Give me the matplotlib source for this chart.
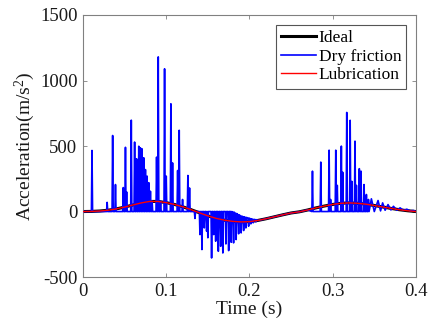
"""Acceleration response: ideal vs dry friction vs lubrication."""

import matplotlib

matplotlib.use("Agg")
import matplotlib.pyplot as plt  # noqa: E402

plt.rcParams["font.family"] = ["Liberation Serif", "DejaVu Serif"]
plt.rcParams["mathtext.fontset"] = "custom"
plt.rcParams["mathtext.rm"] = "Liberation Serif"
plt.rcParams["mathtext.it"] = "Liberation Serif:italic"
plt.rcParams["axes.unicode_minus"] = False

# ---- data ----
ideal_t = [0.00, 0.01, 0.02, 0.03, 0.04, 0.05, 0.06, 0.07, 0.08, 0.09,
           0.10, 0.11, 0.12, 0.13, 0.14, 0.15, 0.16, 0.17, 0.18, 0.19,
           0.20, 0.21, 0.22, 0.23, 0.24, 0.25, 0.26, 0.27, 0.28, 0.29,
           0.30, 0.31, 0.32, 0.33, 0.34, 0.35, 0.36, 0.37, 0.38, 0.39, 0.40]
ideal_a = [0, 1, 4, 10, 20, 34, 50, 66, 77, 77,
           68, 54, 36, 14, -10, -33, -52, -66, -75, -79,
           -77, -68, -55, -40, -25, -11, -2, 12, 28, 42,
           54, 63, 66, 63, 56, 46, 35, 24, 14, 6, 0]
lub_a = [0, 1, 4, 10, 20, 34, 50, 66, 77, 77,
         68, 54, 36, 14, -10, -33, -52, -66, -75, -79,
         -77, -68, -55, -40, -25, -11, -2, 12, 28, 42,
         54, 63, 66, 63, 56, 46, 35, 24, 14, 6, 0]

# dry friction: stick-slip impulses (time, peak, level between impulses)
spike_t = [0.0108, 0.0290, 0.0356, 0.0390, 0.0484, 0.0510, 0.0524, 0.0580,
           0.0620, 0.0644, 0.0670, 0.0690, 0.0710, 0.0730, 0.0750, 0.0770,
           0.0790, 0.0810, 0.0830, 0.0884, 0.0904, 0.0932, 0.0980, 0.1000,
           0.1056, 0.1076, 0.1137, 0.1156, 0.1196, 0.1260, 0.1280,
           0.1345, 0.1405, 0.1429, 0.1457, 0.1485, 0.1500, 0.1545, 0.1570,
           0.1594, 0.1626, 0.1654, 0.1680, 0.1717, 0.1750, 0.1780, 0.1809,
           0.1840, 0.1870, 0.1900, 0.1930, 0.1957, 0.1990, 0.2017, 0.2045,
           0.2077,
           0.2757, 0.2857, 0.2957, 0.2975, 0.3037, 0.3055, 0.3104, 0.3120,
           0.3169, 0.3210, 0.3230, 0.3268, 0.3285, 0.3320, 0.3340, 0.3377,
           0.3405, 0.3430]
spike_peak = [466, 70, 580, 206, 183, 490, 150, 697,
              530, 402, 498, 486, 478, 410, 320, 270,
              220, 155, 80, 415, 1180, 80, 1089, 270,
              822, 371, 313, 620, 92, 275, 180,
              -53, -176, -290, -125, -150, -200, -354, -176,
              -226, -303, -265, -316, -247, -298, -234, -239,
              -214, -170, -163, -145, -125, -112, -94, -86,
              -79,
              308, 377, 468, 92, 468, 200, 499, 300,
              756, 696, 230, 537, 200, 327, 308, 206,
              130, 92]
spike_base = [0] * 31 + [0] * 15 + [-5, -15, -25, -35, -40, -45, -50, -55, -60, -62] + [0] * 18

tail_t = [0.3465, 0.3500, 0.3545, 0.3575, 0.3600, 0.3630, 0.3665, 0.3700,
          0.3730, 0.3770, 0.3810, 0.3850, 0.3890, 0.3930, 0.3970, 0.4000]
tail_a = [97, 0, 84, 5, 66, 10, 53, 12, 40, 10, 28, 8, 18, 5, 8, 0]

SPIKE_W = 0.0007

# assemble the dry friction trace
pts = [(0.0, 0.0)]
for t, p, b in zip(spike_t, spike_peak, spike_base):
    pts += [(t - SPIKE_W, b), (t, p), (t + SPIKE_W, b)]
for t, a in zip(ideal_t, ideal_a):
    if 0.21 <= t <= 0.27:
        pts.append((t, a))
pts += list(zip(tail_t, tail_a))
pts.sort()
dry_t = [p[0] for p in pts]
dry_a = [p[1] for p in pts]

# ---- plot ----
fig = plt.figure(figsize=(4.29, 3.33), dpi=100)
ax = fig.add_axes([0.1935, 0.168, 0.776, 0.787])

ax.plot(ideal_t, ideal_a, color="black", lw=2.2, label="Ideal", zorder=2)
ax.plot(dry_t, dry_a, color="#0000FF", lw=1.2, label="Dry friction", zorder=3)
ax.plot(ideal_t, lub_a, color="#FF0000", lw=1.0, label="Lubrication", zorder=4)

ax.set_xlim(0, 0.4)
ax.set_ylim(-500, 1500)
ax.set_xticks([0, 0.1, 0.2, 0.3, 0.4])
ax.set_xticklabels(["0", "0.1", "0.2", "0.3", "0.4"])
ax.set_yticks([-500, 0, 500, 1000, 1500])

for s in ax.spines.values():
    s.set_color("#808080")
    s.set_linewidth(0.8)
ax.tick_params(direction="in", top=True, right=True, length=3, width=0.6,
               color="#808080", labelcolor="#1a1a1a", labelsize=13.5, pad=4)

ax.set_xlabel("Time (s)", fontsize=14, color="#1a1a1a", labelpad=1)
ax.set_ylabel("Acceleration(m/s$^2$)", fontsize=14, color="#1a1a1a", labelpad=2)

leg = ax.legend(loc="upper right", fontsize=12.5, fancybox=False,
                framealpha=1, edgecolor="#555555", handlelength=2.0,
                handletextpad=0.15, labelspacing=0.15, borderpad=0.3,
                borderaxespad=0.55)
leg.get_frame().set_linewidth(0.8)

fig.savefig("out.png", dpi=100)
